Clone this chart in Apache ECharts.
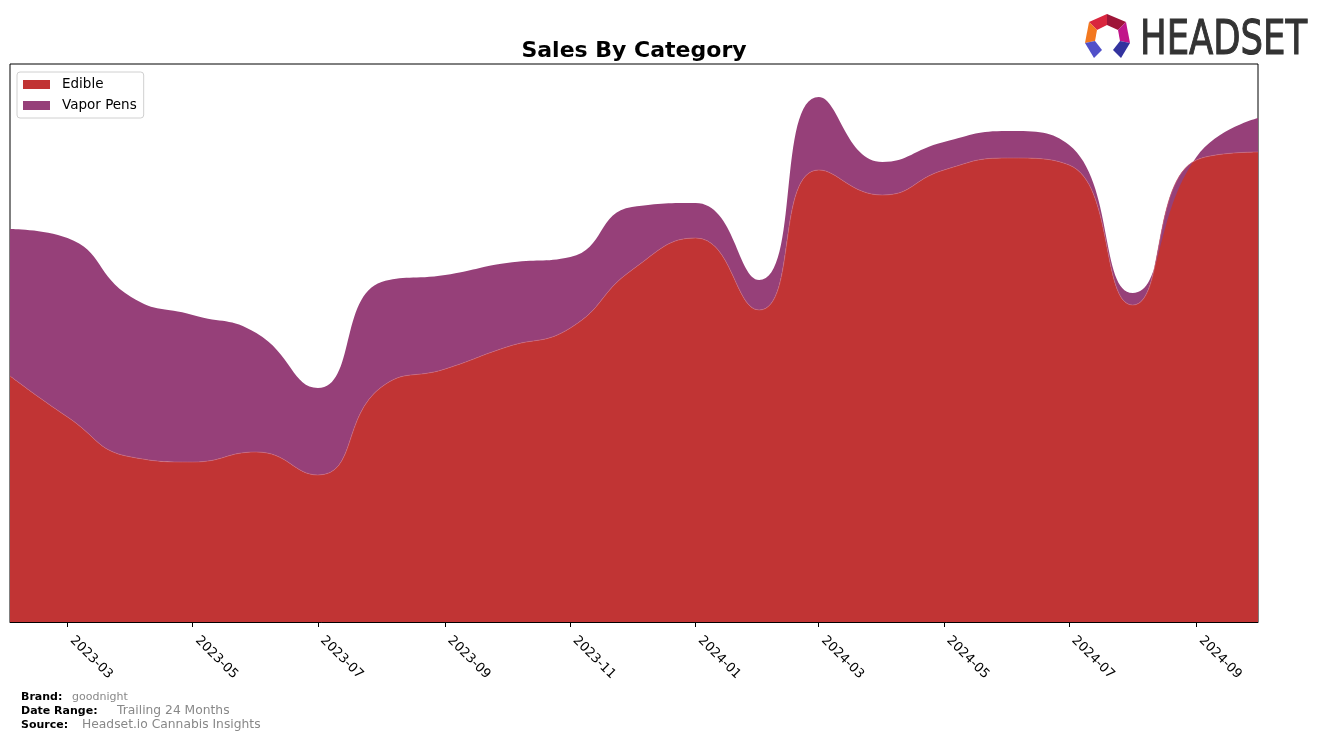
<!DOCTYPE html>
<html>
<head>
<meta charset="utf-8">
<script src="https://cdn.jsdelivr.net/npm/echarts@6/dist/echarts.min.js"></script>
<style>
  html, body { margin: 0; padding: 0; background: #fff; }
  #chart { width: 1322px; height: 741px; }
</style>
</head>
<body>
<div id="chart"></div>
<script>
// Monthly data (arbitrary units)
const months = ['2023-02','2023-03','2023-04','2023-05','2023-06','2023-07','2023-08','2023-09','2023-10','2023-11','2023-12',
                '2024-01','2024-02','2024-03','2024-04','2024-05','2024-06','2024-07','2024-08','2024-09','2024-10'];
const edible = [246,205,165,160,170,147,235,253,275,294,352,384,312,452,427,452,464,457,317,462,470];
const vaporPens = [147,179,160,147,119,87,105,94,84,71,63,35,30,73,33,28,27,20,12,3,34];
const tickLabels = ['2023-03','2023-05','2023-07','2023-09','2023-11','2024-01','2024-03','2024-05','2024-07','2024-09'];

function monthTs(s) {
  const p = s.split('-');
  return Date.UTC(+p[0], +p[1] - 1, 1);
}
const tickValues = tickLabels.map(monthTs);
const labelMap = {};
tickLabels.forEach((t, i) => { labelMap[tickValues[i]] = t; });

const FONT = 'DejaVu Sans';
const xMin = monthTs(months[0]);
const xMax = monthTs(months[months.length - 1]);

const chart = echarts.init(document.getElementById('chart'), null, { renderer: 'canvas' });
chart.setOption({
  animation: false,
  backgroundColor: '#ffffff',
  legend: {
    orient: 'vertical',
    left: 17, top: 72,
    padding: [5, 7, 5, 6],
    itemGap: 6,
    itemWidth: 27, itemHeight: 9,
    icon: 'rect',
    borderColor: '#d0d0d0', borderWidth: 1, borderRadius: 3,
    backgroundColor: 'rgba(255,255,255,0.8)',
    textStyle: { fontFamily: FONT, fontSize: 13.5, color: '#000', padding: [0, 0, 0, 7], lineHeight: 15 },
    data: ['Edible', 'Vapor Pens']
  },
  grid: {
    left: 10, right: 64, top: 64, bottom: 119,
    show: true, borderColor: '#000', borderWidth: 1,
    containLabel: false
  },
  xAxis: [
    {
      // time axis that places the data
      type: 'time', min: xMin, max: xMax,
      axisLine: { show: false }, axisTick: { show: false }, axisLabel: { show: false },
      splitLine: { show: false }
    },
    {
      // same span, used only for the tick marks and labels
      type: 'value', min: xMin, max: xMax, position: 'bottom',
      axisLine: { show: true, onZero: false, lineStyle: { color: '#000', width: 1 } },
      axisTick: { show: true, length: 5, lineStyle: { color: '#000' }, customValues: tickValues },
      axisLabel: {
        customValues: tickValues,
        formatter: function (v) { return labelMap[v] || ''; },
        rotate: -45,
        align: 'left',
        verticalAlign: 'bottom',
        margin: 21,
        fontFamily: FONT, fontSize: 13, color: '#000'
      },
      splitLine: { show: false }
    }
  ],
  yAxis: {
    type: 'value', min: 0, max: 558,
    axisLine: { show: false }, axisTick: { show: false }, axisLabel: { show: false },
    splitLine: { show: false }
  },
  series: [
    {
      name: 'Edible', type: 'line', stack: 'total', smooth: 0.5, symbol: 'none',
      xAxisIndex: 0,
      color: '#c13434',
      lineStyle: { width: 0.6, color: '#cf6a7a' },
      areaStyle: { color: '#c13434', opacity: 1 },
      data: months.map((m, i) => [monthTs(m), edible[i]])
    },
    {
      name: 'Vapor Pens', type: 'line', stack: 'total', smooth: 0.5, symbol: 'none',
      xAxisIndex: 0,
      color: '#964079',
      lineStyle: { width: 0 },
      areaStyle: { color: '#964079', opacity: 1 },
      data: months.map((m, i) => [monthTs(m), vaporPens[i]])
    }
  ],
  graphic: [
    // Title
    { type: 'text', x: 634, y: 51, z: 10,
      style: { text: 'Sales By Category', font: 'bold 22px "DejaVu Sans"', fill: '#000', align: 'center', verticalAlign: 'middle' } },
    // Footer
    { type: 'text', left: 21, top: 692, style: { text: 'Brand:', font: 'bold 11px "DejaVu Sans"', fill: '#000' } },
    { type: 'text', left: 72, top: 692, style: { text: 'goodnight', font: '11px "DejaVu Sans"', fill: '#888' } },
    { type: 'text', left: 21, top: 706, style: { text: 'Date Range:', font: 'bold 11px "DejaVu Sans"', fill: '#000' } },
    { type: 'text', left: 117, top: 705, style: { text: 'Trailing 24 Months', font: '12.3px "DejaVu Sans"', fill: '#888' } },
    { type: 'text', left: 21, top: 720, style: { text: 'Source:', font: 'bold 11px "DejaVu Sans"', fill: '#000' } },
    { type: 'text', left: 82, top: 719, style: { text: 'Headset.io Cannabis Insights', font: '12.3px "DejaVu Sans"', fill: '#888' } },
    // Logo
    {
      type: 'group', left: 1085, top: 14,
      children: [
        { type: 'polygon', shape: { points: [[4,8],[22,0],[22,11],[12,16]] }, style: { fill: '#d9263e' } },
        { type: 'polygon', shape: { points: [[22,0],[41,8],[33,16],[22,11]] }, style: { fill: '#9e1538' } },
        { type: 'polygon', shape: { points: [[4,8],[12,16],[10,27],[0,29]] }, style: { fill: '#f3781f' } },
        { type: 'polygon', shape: { points: [[41,8],[45,29],[35,27],[33,16]] }, style: { fill: '#c1168a' } },
        { type: 'polygon', shape: { points: [[0,29],[10,27],[17,36],[9,44]] }, style: { fill: '#5150c9' } },
        { type: 'polygon', shape: { points: [[45,29],[35,27],[28,36],[36,44]] }, style: { fill: '#33339f' } }
      ]
    },
    {
      type: 'text', x: 1140, y: 18, scaleX: 0.695, scaleY: 0.94,
      style: { text: 'HEADSET', font: '51px "DejaVu Sans"', fill: '#333', stroke: '#333', lineWidth: 1.2,
               align: 'left', verticalAlign: 'top' }
    }
  ]
});
</script>
</body>
</html>
